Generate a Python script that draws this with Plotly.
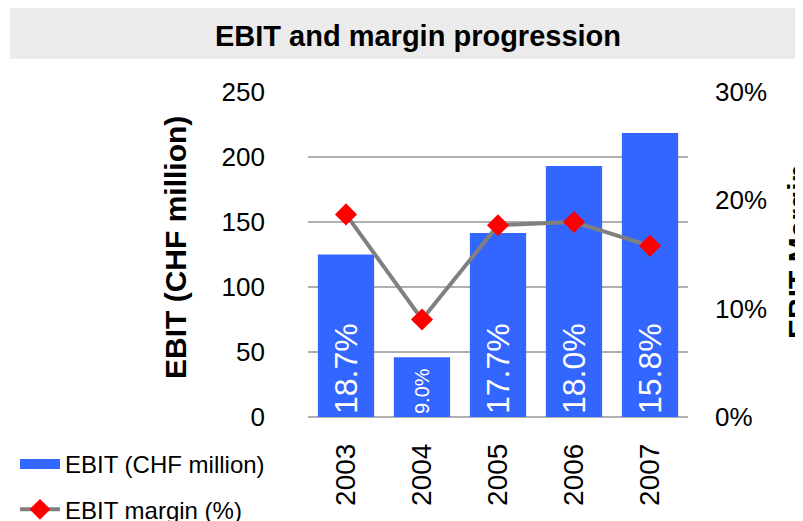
import plotly.graph_objects as go

years = ["2003", "2004", "2005", "2006", "2007"]
ebit = [125, 46, 141.5, 193, 218.5]
margin = [0.187, 0.090, 0.177, 0.180, 0.158]
margin_labels = ["18.7%", "9.0%", "17.7%", "18.0%", "15.8%"]
label_sizes = [32, 20, 32, 32, 32]

FONT = "Liberation Sans, Arial, sans-serif"
BLUE = "#3366FF"

fig = go.Figure()
fig.add_trace(go.Bar(
    x=years, y=ebit, name="EBIT (CHF million)",
    marker=dict(color=BLUE, line=dict(width=0)),
    width=0.74,
    text=margin_labels, textposition="inside", insidetextanchor="start",
    textangle=-90, textfont=dict(color="white", size=label_sizes, family=FONT),
    showlegend=False,
))
# legend-only entry for the bars (wide swatch like the reference)
fig.add_trace(go.Scatter(
    x=[None], y=[None], name="EBIT (CHF million)", mode="lines",
    line=dict(color=BLUE, width=16), legendgroup="a",
))
fig.add_trace(go.Scatter(
    x=years, y=margin, name="EBIT margin (%)", yaxis="y2",
    mode="lines+markers",
    line=dict(color="#808080", width=4),
    marker=dict(symbol="diamond", color="#FF0000", size=17),
    legendgroup="b",
))

fig.add_shape(type="rect", xref="paper", yref="paper",
              x0=-0.784, x1=1.31, y0=1.102, y1=1.26,
              fillcolor="#EBEBEB", line=dict(width=0), layer="below")

# axis titles (figure is offset by the page's 8px body margin)
fig.add_annotation(text="<b>EBIT (CHF million)</b>", textangle=-90,
                   xref="paper", yref="paper", x=(175 - 308) / 380, y=(417 - 248) / 325,
                   xanchor="center", yanchor="middle", showarrow=False,
                   font=dict(size=30, family=FONT, color="black"))
fig.add_annotation(text="<b>EBIT Margin</b>", textangle=-90,
                   xref="paper", yref="paper", x=(798 - 308) / 380, y=(417 - 252) / 325,
                   xanchor="center", yanchor="middle", showarrow=False,
                   font=dict(size=30, family=FONT, color="black"))

fig.update_layout(
    width=803, height=521,
    margin=dict(l=300, r=123, t=84, b=112, autoexpand=False),
    paper_bgcolor="white", plot_bgcolor="white",
    font=dict(family=FONT, color="black", size=24),
    title=dict(text="<b>EBIT and margin progression</b>", x=410 / 803, xanchor="center",
               y=1 - 28 / 521, yanchor="middle", yref="container",
               font=dict(size=29, family=FONT, color="black")),
    xaxis=dict(tickangle=-90, tickfont=dict(size=28), showgrid=False, automargin=False,
               ticklabelstandoff=20, showline=False),
    yaxis=dict(range=[0, 250], dtick=50, showgrid=True, gridcolor="#B0B0B0", automargin=False,
               gridwidth=1.5, zeroline=True, zerolinecolor="#B0B0B0", zerolinewidth=1.5,
               tickfont=dict(size=26), ticklabelstandoff=42),
    yaxis2=dict(range=[0, 0.30], dtick=0.1, tickformat=".0%", overlaying="y", side="right",
                automargin=False,
                showgrid=False, zeroline=False, tickfont=dict(size=26), ticklabelstandoff=26),
    showlegend=True,
    legend=dict(xref="container", yref="container", x=7 / 803, y=1 - 434 / 521,
                xanchor="left", yanchor="top", font=dict(size=24),
                tracegroupgap=11, bgcolor="rgba(0,0,0,0)", itemwidth=40),
)

fig.write_html("out.html")
